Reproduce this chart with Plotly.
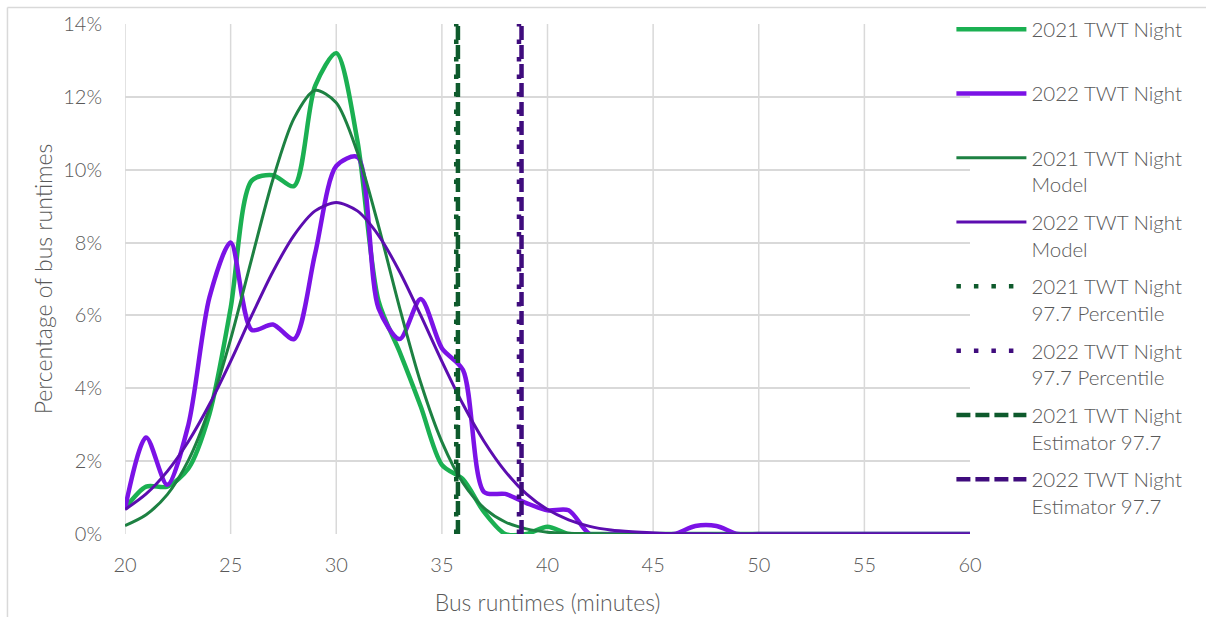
import plotly.graph_objects as go

# Runtime bins (minutes)
minutes = list(range(20, 61))

# Observed share of bus runtimes per minute bin (percent)
night_2021 = [0.70, 1.30, 1.30, 1.80, 3.30, 6.20, 9.70, 9.85, 9.55, 12.30,
              13.20, 10.80, 6.40, 5.00, 3.50, 1.90, 1.50, 0.60, 0.00, 0.00,
              0.20, 0.00, 0.00, 0.00, 0.00, 0.00, 0.00, 0.00, 0.00, 0.00,
              0.00, 0.00, 0.00, 0.00, 0.00, 0.00, 0.00, 0.00, 0.00, 0.00,
              0.00]
night_2022 = [0.70, 2.65, 1.35, 3.00, 6.50, 8.00, 5.60, 5.75, 5.35, 7.70,
              10.10, 10.35, 6.20, 5.35, 6.45, 5.10, 4.50, 1.15, 1.10, 0.85,
              0.65, 0.65, 0.00, 0.00, 0.00, 0.00, 0.00, 0.22, 0.22, 0.00,
              0.00, 0.00, 0.00, 0.00, 0.00, 0.00, 0.00, 0.00, 0.00, 0.00,
              0.00]

# Fitted model share per minute bin (percent)
model_2021 = [0.23, 0.53, 1.08, 2.02, 3.45, 5.35, 7.56, 9.73, 11.41, 12.18,
              11.84, 10.48, 8.46, 6.21, 4.15, 2.53, 1.40, 0.71, 0.33, 0.14,
              0.05, 0.02, 0.01, 0.00, 0.00, 0.00, 0.00, 0.00, 0.00, 0.00,
              0.00, 0.00, 0.00, 0.00, 0.00, 0.00, 0.00, 0.00, 0.00, 0.00,
              0.00]
model_2022 = [0.67, 1.10, 1.72, 2.54, 3.56, 4.74, 6.00, 7.20, 8.20, 8.87,
              9.10, 8.87, 8.20, 7.20, 6.00, 4.74, 3.56, 2.54, 1.72, 1.10,
              0.67, 0.39, 0.21, 0.11, 0.06, 0.03, 0.01, 0.01, 0.00, 0.00,
              0.00, 0.00, 0.00, 0.00, 0.00, 0.00, 0.00, 0.00, 0.00, 0.00,
              0.00]

# 97.7th percentile markers (minutes)
years = ["2021", "2022"]
percentile_977 = [35.68, 38.65]
estimator_977 = [35.76, 38.77]
y_span = [0.0, 14.0]

x_ticks = [20, 25, 30, 35, 40, 45, 50, 55, 60]
y_ticks = [0, 2, 4, 6, 8, 10, 12, 14]

GREEN = "#1BB052"
PURPLE = "#7B12E6"
GREEN_MODEL = "#1D8142"
PURPLE_MODEL = "#5C0DB0"
GREEN_DARK = "#0E5A2C"
PURPLE_DARK = "#3F0C7D"
TEXT = "#595959"
GRID = "#D9D9D9"
FONT = "Lato"
WEIGHT = 300


def pct(values):
    return [v / 100 for v in values]


fig = go.Figure()

series = [
    ("2021 TWT Night", night_2021, GREEN, 4.5),
    ("2022 TWT Night", night_2022, PURPLE, 4.5),
    ("2021 TWT Night<br>Model", model_2021, GREEN_MODEL, 3.0),
    ("2022 TWT Night<br>Model", model_2022, PURPLE_MODEL, 3.0),
]
for i, (name, vals, color, width) in enumerate(series):
    label = name if "<br>" in name else name + "<br> "
    fig.add_trace(go.Scatter(
        x=minutes, y=pct(vals), mode="lines", name=label,
        line=dict(color=color, width=width, shape="spline", smoothing=0.8),
        legendgroup=f"g{i}", legendrank=i,
    ))

marker_colors = [GREEN_DARK, PURPLE_DARK]
for j, year in enumerate(years):
    fig.add_trace(go.Scatter(
        x=[percentile_977[j]] * 2, y=pct(y_span), mode="lines",
        name=f"{year} TWT Night<br>97.7 Percentile",
        line=dict(color=marker_colors[j], width=4.5, dash="4.5px,13px"),
        legendgroup=f"p{j}", legendrank=4 + j,
    ))
for j, year in enumerate(years):
    fig.add_trace(go.Scatter(
        x=[estimator_977[j]] * 2, y=pct(y_span), mode="lines",
        name=f"{year} TWT Night<br>Estimator 97.7",
        line=dict(color=marker_colors[j], width=4.5, dash="14px,5px"),
        legendgroup=f"e{j}", legendrank=6 + j,
    ))

# Vertical gridlines (none at the right end of the axis)
shapes = []
for xv in x_ticks[:-1]:
    shapes.append(dict(type="line", xref="x", yref="paper", x0=xv, x1=xv,
                       y0=0, y1=1, line=dict(color=GRID, width=1.5), layer="below"))
# Chart-area frame
shapes.append(dict(type="line", xref="paper", yref="paper", x0=-0.1391, x1=-0.1391,
                   y0=-0.3, y1=1.0324, line=dict(color=GRID, width=1.5)))
shapes.append(dict(type="line", xref="paper", yref="paper", x0=-0.1391, x1=1.4,
                   y0=1.0324, y1=1.0324, line=dict(color=GRID, width=1.5)))

fig.update_layout(
    width=1206, height=617,
    margin=dict(l=125, r=236, t=24, b=83, autoexpand=False),
    paper_bgcolor="white", plot_bgcolor="white",
    font=dict(family=FONT, color=TEXT, size=20, weight=WEIGHT),
    shapes=shapes,
    showlegend=True,
    legend=dict(
        x=0.978, y=1.0288, xanchor="left", yanchor="top",
        maxheight=600,
        font=dict(size=20.5, color=TEXT, family=FONT, weight=WEIGHT),
        tracegroupgap=8, itemwidth=70, valign="top",
        bgcolor="rgba(0,0,0,0)",
    ),
    xaxis=dict(
        range=[20, 60], tickvals=x_ticks, showgrid=False, zeroline=False,
        showline=False, ticks="", ticklabelstandoff=17,
        title=dict(text="Bus runtimes (minutes)", standoff=19,
                   font=dict(size=23, color=TEXT, weight=WEIGHT)),
        tickfont=dict(size=20, color=TEXT, weight=WEIGHT),
    ),
    yaxis=dict(
        range=[0, 0.14], tickvals=pct(y_ticks), tickformat=".0%",
        showgrid=True, gridcolor=GRID, gridwidth=1.5, zeroline=False,
        showline=False, ticks="", ticklabelstandoff=22,
        title=dict(text="Percentage of bus runtimes", standoff=4,
                   font=dict(size=23, color=TEXT, weight=WEIGHT)),
        tickfont=dict(size=20, color=TEXT, weight=WEIGHT),
    ),
)

fig.write_html("out.html")
